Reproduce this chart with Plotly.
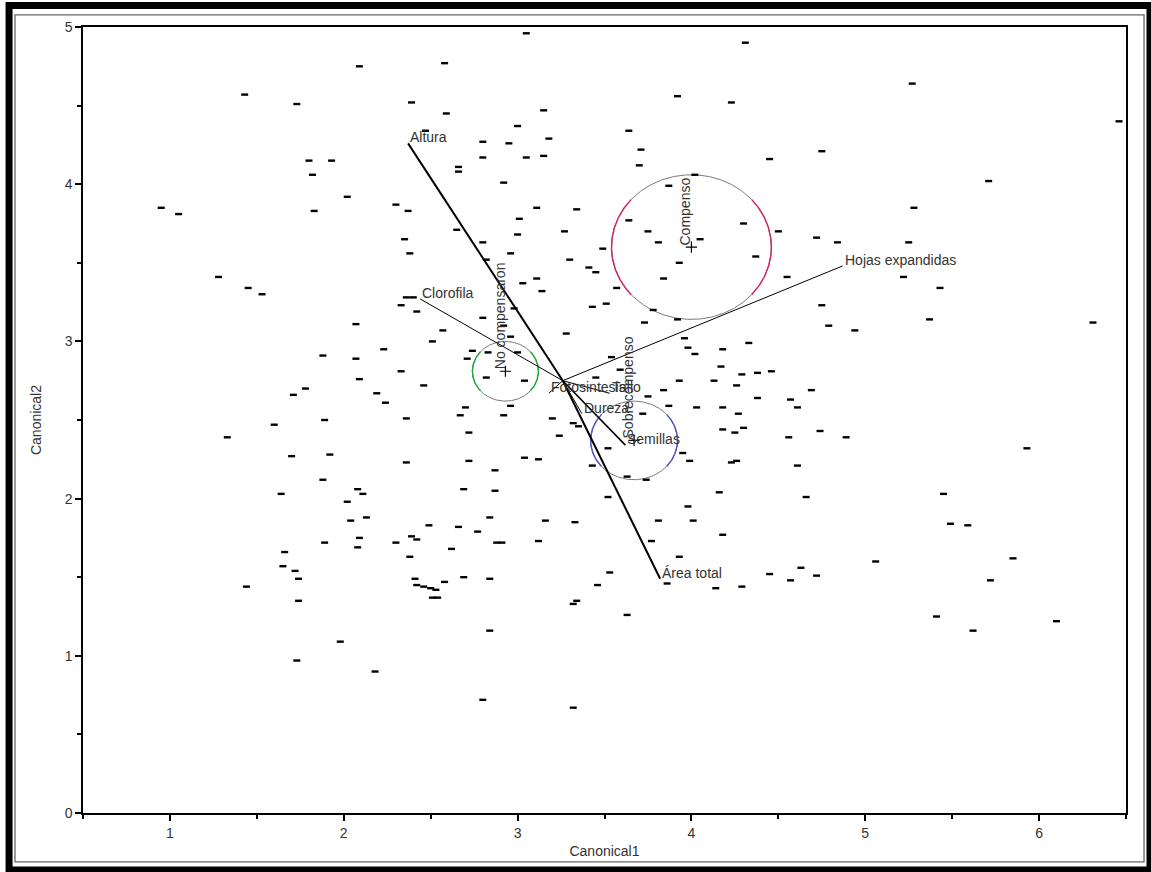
import numpy as np
import plotly.graph_objects as go

# ---------------- data ----------------
canon1 = [2.09, 1.43, 1.73, 2.39, 2.47, 1.80, 1.93, 1.82, 2.02, 2.30, 2.37, 0.95, 1.05, 1.83, 2.35, 2.38, 1.28, 1.45,
          3.05, 4.31, 2.58, 3.92, 4.23, 2.59, 3.15, 3.00, 3.64, 2.80, 2.95, 3.18, 3.71, 4.45, 2.80, 3.05, 3.15, 3.70,
          2.66, 2.66, 2.92, 4.02, 3.87, 3.11, 3.34, 3.01, 3.64, 4.30, 4.50, 2.65, 3.27, 3.00, 3.75, 4.05, 2.80, 3.81,
          3.49, 2.96, 2.82, 3.30, 4.37, 3.93, 3.41, 3.45, 3.11, 3.03, 3.84, 3.57,
          5.27, 6.46, 4.75, 5.71, 5.28, 4.72, 4.84, 5.25, 4.55, 5.22, 5.43,
          1.53, 2.36, 2.40, 2.33, 2.42, 2.07, 2.51, 2.23, 1.88, 2.07, 2.33, 2.09, 2.46, 1.78, 1.71, 2.19, 2.24, 1.60,
          1.89, 2.36, 1.33, 1.70, 1.92, 2.36, 1.88, 1.64, 2.08, 2.11, 2.02, 2.04, 2.13, 2.49, 1.89, 2.09, 2.30, 2.39, 2.42,
          3.14, 3.51, 3.43, 3.78, 3.92, 2.80, 2.57, 2.98, 2.92, 3.73, 3.28, 2.96, 3.96, 3.98, 4.02, 4.18, 2.74, 2.83,
          3.00, 3.54, 3.59, 4.17, 2.71, 2.82, 3.04, 3.45, 3.93, 4.13, 3.84, 2.70, 2.96, 3.75, 3.87, 4.03, 4.18, 2.67,
          2.92, 3.20, 3.32, 3.35, 3.72, 4.18, 2.72, 3.24, 3.52, 3.95, 3.99, 2.72, 3.04, 3.12, 3.43, 3.63, 3.74, 2.87,
          2.69, 2.87, 3.52,
          5.37, 6.31, 4.94, 4.79, 4.75, 4.33, 4.29, 4.38, 4.46, 4.26, 4.38, 4.57, 4.69, 4.61, 4.27, 4.25, 4.30, 4.74,
          4.89, 4.56, 5.93, 5.45, 5.49, 5.59, 5.85, 5.72, 5.41, 5.62, 6.10, 5.06, 4.63, 4.72, 4.57, 4.66, 4.61, 4.23,
          4.26, 4.18, 4.16, 3.98, 4.01, 3.81, 3.93, 3.86, 4.14, 4.29, 4.45, 3.77, 3.63, 3.53, 3.46, 3.32, 3.34, 3.32,
          3.12, 3.16, 3.33, 2.88, 2.91, 2.84, 2.80, 2.84, 2.84, 2.77, 2.62, 2.66, 2.50, 2.53, 2.51, 2.54, 2.41, 2.42,
          2.46, 2.58, 2.69, 2.38, 2.08, 1.66, 1.65, 1.72, 1.74, 1.44, 1.73, 1.98, 2.18, 1.74]
canon2 = [4.75, 4.57, 4.51, 4.52, 4.34, 4.15, 4.15, 4.06, 3.92, 3.87, 3.83, 3.85, 3.81, 3.83, 3.65, 3.56, 3.41, 3.34,
          4.96, 4.90, 4.77, 4.56, 4.52, 4.45, 4.47, 4.37, 4.34, 4.27, 4.26, 4.29, 4.22, 4.16, 4.17, 4.17, 4.18, 4.12,
          4.11, 4.08, 4.01, 4.06, 3.99, 3.85, 3.84, 3.78, 3.77, 3.75, 3.70, 3.71, 3.70, 3.68, 3.70, 3.65, 3.63, 3.63,
          3.59, 3.56, 3.52, 3.52, 3.54, 3.50, 3.47, 3.44, 3.40, 3.37, 3.40, 3.34,
          4.64, 4.40, 4.21, 4.02, 3.85, 3.66, 3.63, 3.63, 3.41, 3.41, 3.34,
          3.30, 3.28, 3.28, 3.23, 3.19, 3.11, 3.00, 2.95, 2.91, 2.89, 2.81, 2.76, 2.72, 2.70, 2.66, 2.67, 2.61, 2.47,
          2.50, 2.51, 2.39, 2.27, 2.28, 2.23, 2.12, 2.03, 2.06, 2.03, 1.98, 1.86, 1.88, 1.83, 1.72, 1.75, 1.72, 1.76, 1.74,
          3.32, 3.24, 3.22, 3.20, 3.14, 3.15, 3.07, 3.21, 3.10, 3.12, 3.05, 3.03, 3.02, 2.96, 2.92, 2.95, 2.94, 2.93,
          2.93, 2.90, 2.82, 2.84, 2.89, 2.77, 2.75, 2.77, 2.75, 2.75, 2.69, 2.58, 2.59, 2.65, 2.59, 2.58, 2.58, 2.53,
          2.53, 2.51, 2.48, 2.46, 2.54, 2.44, 2.42, 2.40, 2.32, 2.29, 2.24, 2.24, 2.26, 2.25, 2.21, 2.14, 2.12, 2.18,
          2.06, 2.05, 2.01,
          3.14, 3.12, 3.07, 3.10, 3.23, 2.99, 2.79, 2.80, 2.81, 2.72, 2.64, 2.63, 2.69, 2.58, 2.54, 2.42, 2.45, 2.43,
          2.39, 2.39, 2.32, 2.03, 1.84, 1.83, 1.62, 1.48, 1.25, 1.16, 1.22, 1.60, 1.56, 1.51, 1.48, 2.01, 2.21, 2.23,
          2.24, 1.77, 2.04, 1.95, 1.86, 1.86, 1.63, 1.46, 1.43, 1.44, 1.52, 1.73, 1.26, 1.53, 1.45, 1.33, 1.35, 0.67,
          1.73, 1.86, 1.85, 1.72, 1.72, 1.16, 0.72, 1.49, 1.88, 1.79, 1.68, 1.82, 1.43, 1.42, 1.37, 1.37, 1.49, 1.45,
          1.44, 1.47, 1.50, 1.63, 1.69, 1.66, 1.57, 1.54, 1.49, 1.44, 0.97, 1.09, 0.90, 1.35]

# biplot rays
ray_origin = (3.26, 2.75)
ray_labels = ["Altura", "Clorofila", "Hojas expandidas", "Área total", "Semillas", "Dureza", "Fotosintesis", "Tallo"]
ray_x = [2.37, 2.44, 4.87, 3.82, 3.62, 3.37, 3.18, 3.53]
ray_y = [4.26, 3.27, 3.48, 1.49, 2.34, 2.54, 2.67, 2.67]

# group centroids and confidence circles
groups = ["No compensaron", "Compenso", "Sobrecompenso"]
grp_x = [2.93, 4.00, 3.67]
grp_y = [2.81, 3.60, 2.37]
grp_r = [0.19, 0.46, 0.25]

x_ticks = [1, 2, 3, 4, 5, 6]
y_ticks = [0, 1, 2, 3, 4, 5]

# ---------------- styles ----------------
FONT = "Liberation Sans, Arial, sans-serif"
TXT = "#333333"
ray_width = {"Altura": 2, "Área total": 2, "Semillas": 1.6}
grp_color = {"No compensaron": "#1fa83c", "Compenso": "#d0245a", "Sobrecompenso": "#4b55c0"}

fig = go.Figure()

# group circles: grey outline with coloured side arcs
theta = np.linspace(0, 2 * np.pi, 721)
for g, cx, cy, r in zip(groups, grp_x, grp_y, grp_r):
    xs = cx + r * np.cos(theta)
    ys = cy + r * np.sin(theta)
    fig.add_trace(go.Scatter(x=xs, y=ys, mode="lines", line=dict(color="#7a7a7a", width=1),
                             hoverinfo="skip", showlegend=False))
    mask = np.abs(np.cos(theta)) > 0.75
    fig.add_trace(go.Scatter(x=np.where(mask, xs, np.nan), y=np.where(mask, ys, np.nan), mode="lines",
                             line=dict(color=grp_color[g], width=1.4), connectgaps=False,
                             hoverinfo="skip", showlegend=False))

# points
fig.add_trace(go.Scatter(x=canon1, y=canon2, mode="markers",
                         marker=dict(symbol="line-ew", size=5, line=dict(width=2.4, color="black")),
                         hoverinfo="skip", showlegend=False))

# rays
for lab, ex, ey in zip(ray_labels, ray_x, ray_y):
    fig.add_trace(go.Scatter(x=[ray_origin[0], ex], y=[ray_origin[1], ey], mode="lines",
                             line=dict(color="black", width=ray_width.get(lab, 1)),
                             hoverinfo="skip", showlegend=False))

# centroid markers
fig.add_trace(go.Scatter(x=grp_x, y=grp_y, mode="markers",
                         marker=dict(symbol="cross-thin", size=8, line=dict(width=1.2, color="black")),
                         hoverinfo="skip", showlegend=False))

annotations = []
for lab, ex, ey in zip(ray_labels, ray_x, ray_y):
    annotations.append(dict(x=ex, y=ey, xref="x", yref="y", text=lab, showarrow=False,
                            xanchor="left", yanchor="bottom", yshift=-4, xshift=0,
                            font=dict(family=FONT, size=14, color=TXT)))
for g, cx, cy in zip(groups, grp_x, grp_y):
    annotations.append(dict(x=cx, y=cy, xref="x", yref="y", text=g, showarrow=False, textangle=-90,
                            xanchor="center", yanchor="bottom", xshift=-6, yshift=0,
                            font=dict(family=FONT, size=14, color=TXT)))

# frame around the page
shapes = [
    dict(type="rect", xref="paper", yref="paper", x0=-0.0709, x1=1.0230, y0=-0.0725, y1=1.0273,
         line=dict(color="black", width=7), layer="above"),
    dict(type="rect", xref="paper", yref="paper", x0=-0.0652, x1=1.0173, y0=-0.0623, y1=1.0153,
         line=dict(color="#666666", width=1.3), layer="above"),
]

axis_common = dict(showline=True, linecolor="black", linewidth=1.5, mirror=True, ticks="outside",
                   ticklen=6, tickwidth=2, tickcolor="black", showgrid=False, zeroline=False,
                   tickfont=dict(family=FONT, size=14, color=TXT))

fig.update_layout(
    width=1151, height=872,
    margin=dict(l=83, r=25, t=27, b=59, autoexpand=False),
    paper_bgcolor="white", plot_bgcolor="white",
    showlegend=False,
    xaxis=dict(range=[0.5, 6.5], tickvals=x_ticks, ticktext=[str(v) for v in x_ticks],
               minor=dict(dtick=0.5, ticks="outside", ticklen=4, tickwidth=2, tickcolor="black", showgrid=False),
               title=dict(text="Canonical1", standoff=7, font=dict(family=FONT, size=14, color=TXT)),
               **axis_common),
    yaxis=dict(range=[0, 5], tickvals=y_ticks, ticktext=[str(v) for v in y_ticks],
               minor=dict(dtick=0.5, ticks="outside", ticklen=4, tickwidth=2, tickcolor="black", showgrid=False),
               title=dict(text="Canonical2", standoff=20, font=dict(family=FONT, size=14, color=TXT)),
               **axis_common),
    annotations=annotations,
    shapes=shapes,
)

fig.write_html("out.html", config={"displayModeBar": False},
               post_script="document.body.style.margin='0';")
